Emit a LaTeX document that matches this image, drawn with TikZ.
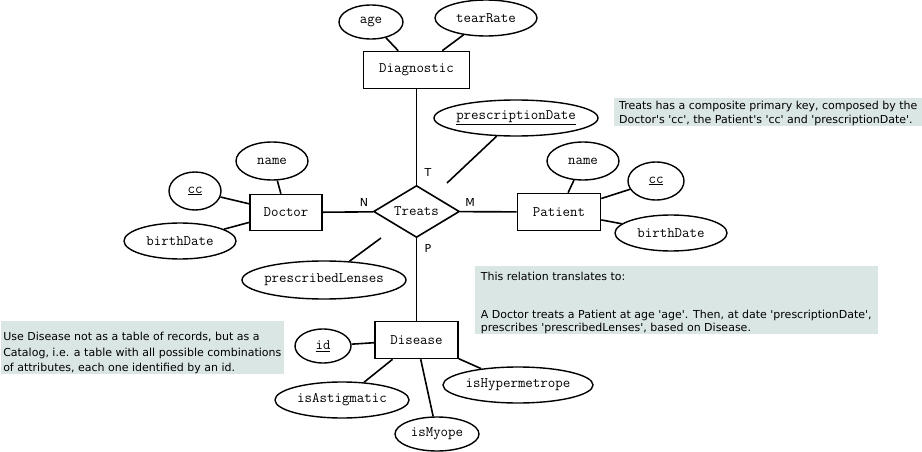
\documentclass[tikz,border=0pt]{standalone}
\usepackage{fontspec}
\setmainfont{DejaVu Sans}
\usetikzlibrary{shapes.geometric}
\definecolor{notebg}{RGB}{218,230,228}
\newcommand{\q}{\textquotesingle}
\begin{document}
\begin{tikzpicture}[x=1pt,y=-1pt,line width=1.6pt,
	entity/.style={draw,rectangle,inner sep=0pt,font=\ttfamily\fontsize{14.5}{16}\selectfont},
	relation/.style={draw,diamond,shape aspect=1.7,inner sep=0pt,minimum width=86pt,minimum height=52pt,font=\ttfamily\fontsize{14.5}{16}\selectfont},
	attr/.style n args={2}{draw,ellipse,inner xsep=-5pt,inner ysep=0pt,line width=1.4pt,minimum width=#1,minimum height=#2,font=\ttfamily\fontsize{14.5}{16}\selectfont},
	card/.style={inner sep=0pt,font=\fontsize{11}{13}\selectfont},
	note/.style={fill=notebg,align=left,inner sep=0pt,anchor=north west,font=\fontsize{11}{13.5}\selectfont}]
	\useasboundingbox (0,0) rectangle (922,452);
	\node[note,minimum width=309pt,minimum height=27pt] (keynote) at (613,97) {\rule{0pt}{12pt}Treats has a composite primary key, composed by the\\Doctor\q s \q cc\q, the Patient\q s \q cc\q{} and \q prescriptionDate\q.};
	\node[note,minimum width=403pt,minimum height=66pt] (relnote) at (474,265) {\rule{0pt}{15pt}This relation translates to:\\[24pt]A Doctor treats a Patient at age \q age\q. Then, at date \q prescriptionDate\q,\\prescribes \q prescribedLenses\q, based on Disease.};
	\node[note,minimum width=283pt,minimum height=51pt,font=\fontsize{11}{15.5}\selectfont] (catnote) at (0,320) {\rule{0pt}{20pt}Use Disease not as a table of records, but as a\\Catalog, i.e. a table with all possible combinations\\of attributes, each one identified by an id.};
	\node[entity,minimum width=106pt,minimum height=37pt] (diag) at (416.5,70) {Diagnostic};
	\node[relation] (treats) at (416.5,211.5) {Treats};
	\node[entity,minimum width=72pt,minimum height=36pt] (doctor) at (286,212.5) {Doctor};
	\node[entity,minimum width=83pt,minimum height=37pt] (patient) at (559,212) {Patient};
	\node[entity,minimum width=83pt,minimum height=37pt] (disease) at (416.5,340) {Disease};
	\node[attr={64pt}{34pt}] (age) at (371,22) {age};
	\node[attr={102pt}{36pt}] (tear) at (486,18) {tearRate};
	\node[attr={164pt}{36pt}] (pdate) at (516,118) {\underline{prescriptionDate}};
	\node[attr={72pt}{38pt}] (pname) at (583,161) {name};
	\node[attr={56pt}{38pt}] (pcc) at (656,181) {\underline{cc}};
	\node[attr={112pt}{36pt}] (pbirth) at (671,233) {birthDate};
	\node[attr={72pt}{38pt}] (dname) at (272,161) {name};
	\node[attr={52pt}{38pt}] (dcc) at (195,191) {\underline{cc}};
	\node[attr={112pt}{36pt}] (dbirth) at (180,241) {birthDate};
	\node[attr={164pt}{38pt}] (lenses) at (324,280) {prescribedLenses};
	\node[attr={56pt}{34pt}] (id) at (323,346) {\underline{id}};
	\node[attr={134pt}{36pt}] (astig) at (342,400) {isAstigmatic};
	\node[attr={84pt}{34pt}] (myope) at (437,434) {isMyope};
	\node[attr={150pt}{36pt}] (hyper) at (518,385) {isHypermetrope};
	\coordinate (pdateend) at (447,183);
	\coordinate (lensesend) at (381,238);
	\draw (age)--(diag);
	\draw (tear)--(diag);
	\draw (diag)--(treats);
	\draw (doctor)--(treats);
	\draw (patient)--(treats);
	\draw (disease)--(treats);
	\draw (pdate)--(pdateend);
	\draw (lenses)--(lensesend);
	\draw (pname)--(patient);
	\draw (pcc)--(patient);
	\draw (pbirth)--(patient);
	\draw (dname)--(doctor);
	\draw (dcc)--(doctor);
	\draw (dbirth)--(doctor);
	\draw (id)--(disease);
	\draw (astig)--(disease);
	\draw (myope)--(disease);
	\draw (hyper)--(disease);
	\node[card] (cardT) at (428,172) {T};
	\node[card] (cardN) at (364,202) {N};
	\node[card] (cardM) at (470,202) {M};
	\node[card] (cardP) at (428,248) {P};
\end{tikzpicture}
\end{document}
